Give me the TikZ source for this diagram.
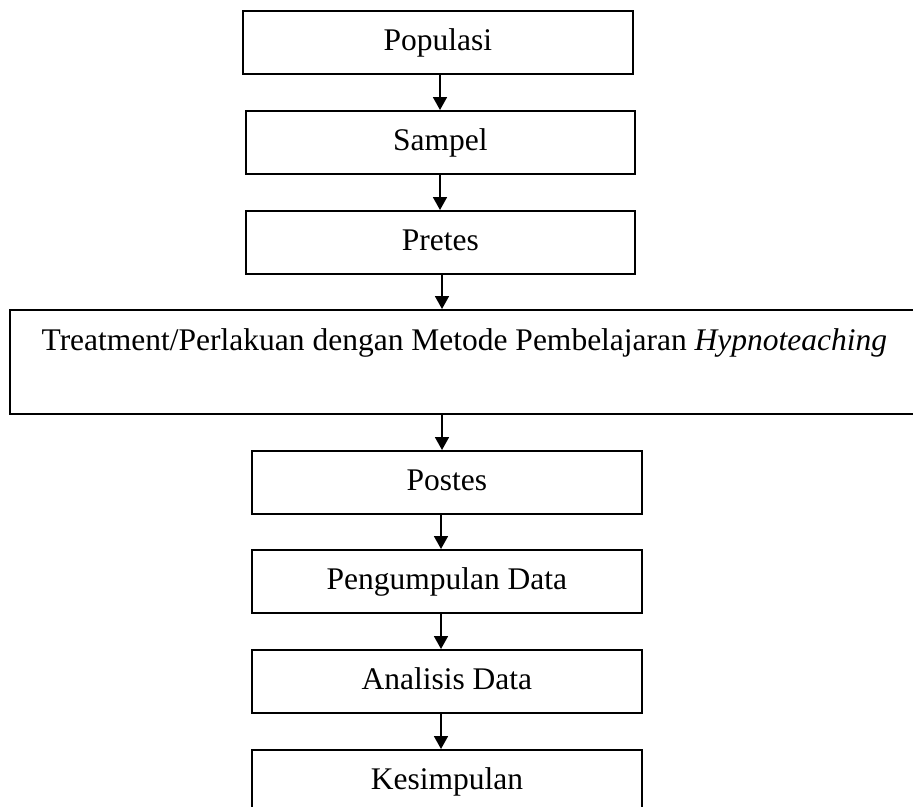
\documentclass[tikz,border=0pt]{standalone}
\usepackage{fontspec}
\setmainfont{Liberation Serif}
\usetikzlibrary{arrows.meta}
\begin{document}
\begin{tikzpicture}[x=1pt,y=-1pt,
  flowbox/.style={draw,line width=1.8pt,rectangle,anchor=north west,inner xsep=0pt,inner ysep=0pt,
    minimum width=#1,text height=40pt,text depth=23pt,
    font=\fontsize{31.5}{36}\selectfont},
  widebox/.style={draw,line width=1.8pt,rectangle,anchor=north west,inner xsep=0pt,inner ysep=0pt,
    minimum width=909pt,text height=41pt,text depth=63pt,
    font=\fontsize{31.5}{36}\selectfont},
  flowarrow/.style={line width=1.8pt,-{Triangle[length=13pt,width=14pt]}}]
\useasboundingbox (0,0) rectangle (913,806);
\clip (0,0) rectangle (913,806);
\node[flowbox=390pt] (pop) at (242,10) {Populasi};
\node[flowbox=389pt] (sam) at (245,110) {Sampel};
\node[flowbox=389pt] (pre) at (245,210) {Pretes};
\node[widebox] (tre) at (9,309) {Treatment/Perlakuan dengan Metode Pembelajaran \textit{Hypnoteaching}};
\node[flowbox=390pt] (pos) at (251,450) {Postes};
\node[flowbox=390pt] (pen) at (251,549) {Pengumpulan Data};
\node[flowbox=390pt] (ana) at (251,649) {Analisis Data};
\node[flowbox=390pt] (kes) at (251,749) {Kesimpulan};
\coordinate (ax1) at (440,0);
\coordinate (ax2) at (442,0);
\coordinate (ax3) at (441,0);
\draw[flowarrow] (pop.south -| ax1) -- (sam.north -| ax1);
\draw[flowarrow] (sam.south -| ax1) -- (pre.north -| ax1);
\draw[flowarrow] (pre.south -| ax2) -- (tre.north -| ax2);
\draw[flowarrow] (tre.south -| ax2) -- (pos.north -| ax2);
\draw[flowarrow] (pos.south -| ax3) -- (pen.north -| ax3);
\draw[flowarrow] (pen.south -| ax3) -- (ana.north -| ax3);
\draw[flowarrow] (ana.south -| ax3) -- (kes.north -| ax3);
\end{tikzpicture}
\end{document}
